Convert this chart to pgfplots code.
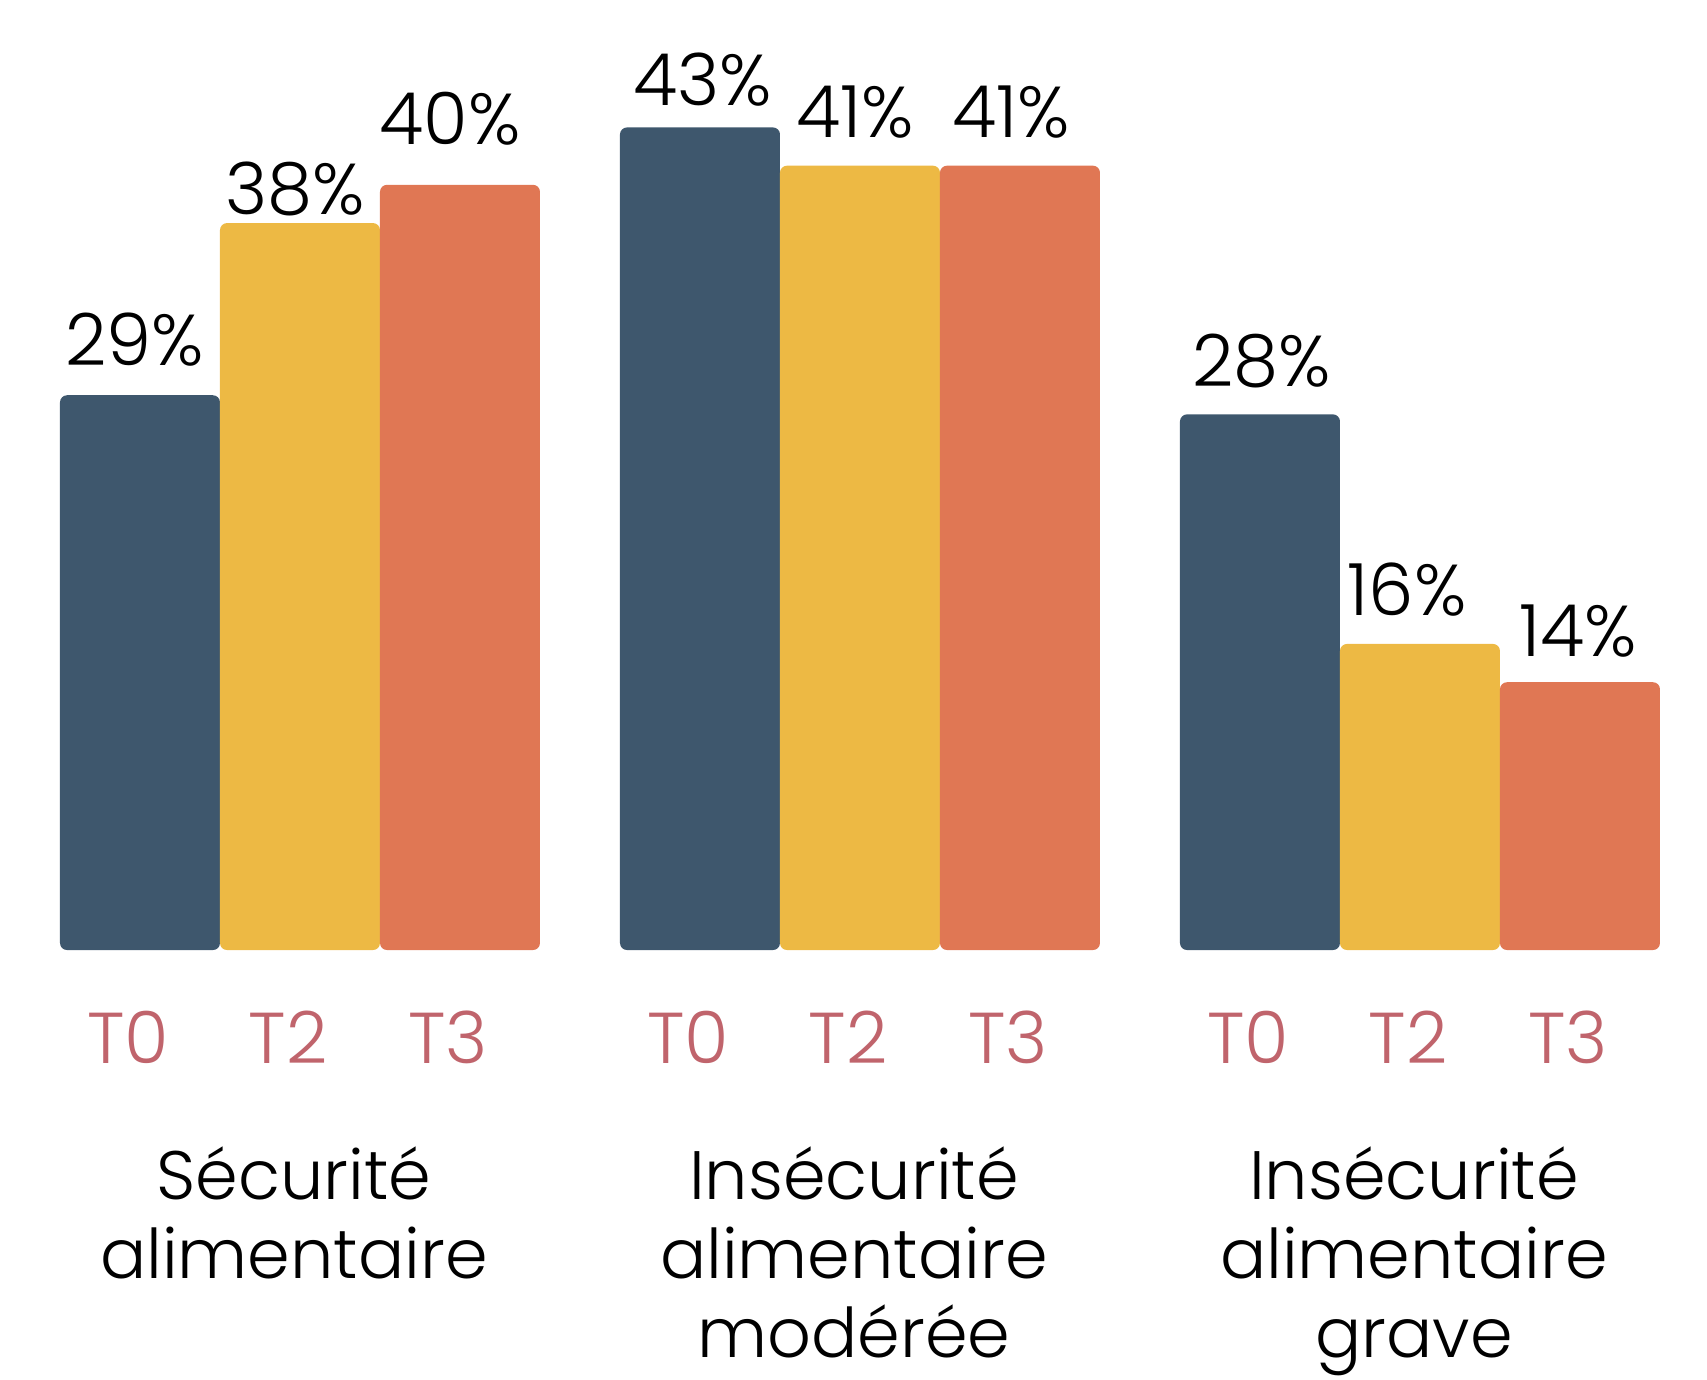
\documentclass[border=0pt]{standalone}
\usepackage{pgfplots}
\pgfplotsset{compat=1.18}
\usepackage{pgfplotstable}
\usepackage{fontspec}
\setmainfont{Poppins Light}
\definecolor{cBlue}{HTML}{3E576D}
\definecolor{cYellow}{HTML}{EDB944}
\definecolor{cOrange}{HTML}{E07754}
\definecolor{cTick}{HTML}{C0646C}

\pgfplotstableread{
x y dx dy
0.875 29 -5 30
4.375 43 3 22
7.875 28 2 28
}\tzero
\pgfplotstableread{
x y dx dy
1.875 38 -5 9
5.375 41 -5 28
8.875 16 -13 28
}\ttwo
\pgfplotstableread{
x y dx dy
2.875 40 -10 40
6.375 41 -9 28
9.875 14 -2 26
}\tthree

\pgfplotsset{
  mybar/.style={draw=none, bar shift=0pt, rounded corners=2pt,
    nodes near coords={\pgfmathprintnumber[assume math mode=true]{\pgfplotspointmeta}\%},
    point meta=y,
    visualization depends on={\thisrow{dx}\as\dx},
    visualization depends on={\thisrow{dy}\as\dy},
    every node near coord/.append style={anchor=base, font=\fontsize{20.5}{24}\selectfont, text=black, xshift=\dx*0.1mm, yshift=\dy*0.1mm}}
}

\begin{document}
\begin{tikzpicture}
\begin{axis}[
  at={(0,4.29cm)}, anchor=south west,
  scale only axis, width=17.07cm, height=9.5cm,
  xmin=0, xmax=10.669, ymin=0, ymax=49.66,
  axis line style={draw=none}, tick style={draw=none}, ytick=\empty,
  xtick={0.875,1.875,2.875,4.375,5.375,6.375,7.875,8.875,9.875},
  xticklabels={T0,T2,T3,T0,T2,T3,T0,T2,T3},
  xticklabel style={font=\fontsize{20.5}{26}\selectfont, text=cTick, anchor=base, yshift=-0.98cm, xshift=-1.2mm},
  extra x ticks={1.875,5.375,8.875},
  extra x tick labels={{Sécurité\\alimentaire},{Insécurité\\alimentaire\\modérée},{Insécurité\\alimentaire\\grave}},
  extra x tick style={every x tick label/.style={font=\fontsize{19.5}{22.5}\selectfont, text=black, align=center, anchor=north, inner sep=0pt, yshift=-1.81cm, xshift=-0.6mm}},
  ybar, bar width=1,
  clip=false,
]
\addplot[fill=cBlue, mybar] table[x=x,y=y] {\tzero};
\addplot[fill=cYellow, mybar] table[x=x,y=y] {\ttwo};
\addplot[fill=cOrange, mybar] table[x=x,y=y] {\tthree};
\end{axis}
\pgfresetboundingbox
\path[use as bounding box] (0,0) rectangle (17.07cm,13.79cm);
\end{tikzpicture}
\end{document}
